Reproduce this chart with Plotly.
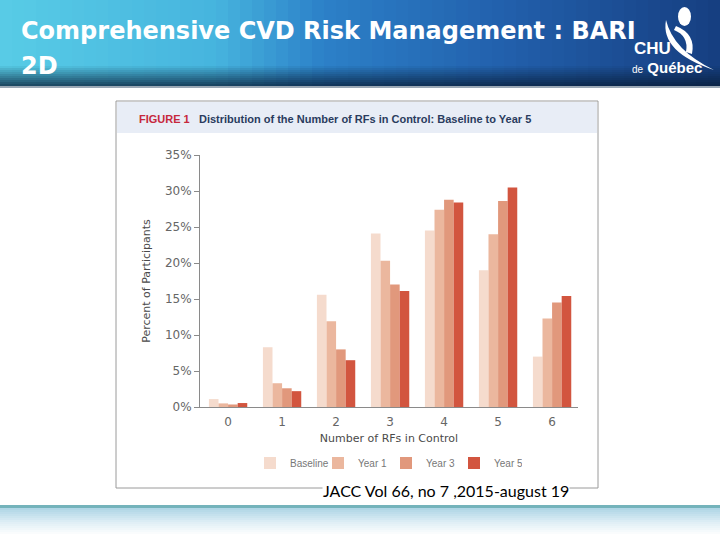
import plotly.graph_objects as go

# Data (percent of participants)
categories = [0, 1, 2, 3, 4, 5, 6]
series_names = ["Baseline", "Year 1", "Year 3", "Year 5"]
baseline = [1.1, 8.3, 15.6, 24.1, 24.5, 19.0, 7.0]
year1 = [0.5, 3.3, 11.9, 20.3, 27.4, 24.0, 12.3]
year3 = [0.35, 2.6, 8.0, 17.0, 28.8, 28.6, 14.5]
year5 = [0.55, 2.2, 6.5, 16.1, 28.4, 30.5, 15.4]
y_ticks = [0, 5, 10, 15, 20, 25, 30, 35]
y_tick_text = [f"{v}%" for v in y_ticks]

COLORS = ["#f5dbcd", "#ebb79e", "#e1987c", "#d2553f"]

W, H = 720, 540


def px(x):
    return x / W


def py(y):
    return 1 - y / H


def lerp_color(stops, t):
    for (t0, c0), (t1, c1) in zip(stops, stops[1:]):
        if t0 <= t <= t1:
            f = (t - t0) / (t1 - t0) if t1 > t0 else 0
            rgb = [round(c0[i] + (c1[i] - c0[i]) * f) for i in range(3)]
            return "rgb(%d,%d,%d)" % tuple(rgb)
    c = stops[-1][1]
    return "rgb(%d,%d,%d)" % c


def note(text, x, y, size, color, family, xanchor="left", **kw):
    return dict(text=text, x=px(x), y=py(y), xref="paper", yref="paper",
                xanchor=xanchor, yanchor="middle", showarrow=False,
                font=dict(family=family, size=size, color=color), **kw)


fig = go.Figure()

for name, vals, col in zip(series_names, [baseline, year1, year3, year5], COLORS):
    fig.add_trace(go.Bar(x=categories, y=vals, name=name, marker_color=col,
                         marker_line_width=0))

shapes = []

# title banner: horizontal gradient built from strips
banner_stops = [
    (0.0, (88, 204, 230)),
    (0.30, (70, 180, 222)),
    (0.45, (44, 128, 200)),
    (0.70, (34, 96, 172)),
    (1.0, (22, 62, 128)),
]
n_strips = 60
for i in range(n_strips):
    x0 = W * i / n_strips
    x1 = W * (i + 1) / n_strips + 0.5
    shapes.append(dict(type="rect", xref="paper", yref="paper",
                       x0=px(x0), x1=px(x1), y0=py(86), y1=py(0),
                       fillcolor=lerp_color(banner_stops, (i + 0.5) / n_strips),
                       line_width=0, layer="below"))
# darker band at bottom of banner
for i in range(10):
    y0 = 66 + i * 2
    shapes.append(dict(type="rect", xref="paper", yref="paper",
                       x0=0, x1=1, y0=py(y0 + 2), y1=py(y0),
                       fillcolor="rgba(8,28,52,%.2f)" % (0.06 + i * 0.075),
                       line_width=0, layer="below"))
shapes.append(dict(type="rect", xref="paper", yref="paper", x0=0, x1=1,
                   y0=py(88), y1=py(86), fillcolor="#9aa7b4", line_width=0,
                   layer="below"))

# logo swoosh
shapes.append(dict(type="circle", xref="paper", yref="paper",
                   x0=px(678), x1=px(691), y0=py(26), y1=py(7),
                   fillcolor="white", line_width=0))
shapes.append(dict(type="path", xref="paper", yref="paper",
                   path="M %f %f Q %f %f %f %f Q %f %f %f %f Z" % (
                       px(666), py(20), px(660), py(52), px(714), py(70),
                       px(673), py(50), px(666), py(20)),
                   fillcolor="white", line_width=0))
shapes.append(dict(type="path", xref="paper", yref="paper",
                   path="M %f %f Q %f %f %f %f L %f %f Q %f %f %f %f Z" % (
                       px(676), py(26), px(696), py(34), px(692), py(54),
                       px(686), py(52), px(689), py(36), px(674), py(30)),
                   fillcolor="white", line_width=0))

# figure box and header strip
shapes.append(dict(type="rect", xref="paper", yref="paper",
                   x0=px(116), x1=px(598), y0=py(488), y1=py(101),
                   line=dict(color="#9a9a9a", width=1), fillcolor="white",
                   layer="below"))
shapes.append(dict(type="rect", xref="paper", yref="paper",
                   x0=px(117), x1=px(597), y0=py(133), y1=py(102),
                   fillcolor="#e8edf6", line_width=0, layer="below"))

# bottom decoration
shapes.append(dict(type="rect", xref="paper", yref="paper", x0=0, x1=1,
                   y0=py(508), y1=py(505), fillcolor="#74b3bb", line_width=0,
                   layer="below"))
bottom_stops = [(0.0, (176, 214, 230)), (0.5, (222, 238, 245)), (1.0, (255, 255, 255))]
for i in range(14):
    y0 = 508 + i * 2
    shapes.append(dict(type="rect", xref="paper", yref="paper", x0=0, x1=1,
                       y0=py(y0 + 2), y1=py(y0),
                       fillcolor=lerp_color(bottom_stops, i / 13),
                       line_width=0, layer="below"))

annotations = [
    note("<b>Comprehensive CVD Risk Management : BARI</b>", 19, 31, 24, "white", "DejaVu Sans"),
    note("<b>2D</b>", 19, 66, 24, "white", "DejaVu Sans"),
    note("<b>CHU</b>", 632, 48, 17, "white", "Liberation Sans"),
    note("<span style='font-size:10px'>de</span> <b>Québec</b>", 630, 67, 15, "white",
         "Liberation Sans"),
    note("<b>FIGURE 1</b>", 137, 119, 11, "#c6283c", "Liberation Sans"),
    note("<b>Distribution of the Number of RFs in Control: Baseline to Year 5</b>",
         197, 119, 11, "#2a3c5e", "Liberation Sans"),
    note("JACC Vol 66, no 7 ,2015-august 19", 446, 490, 16, "black", "Lato",
         xanchor="center", bgcolor="white", borderpad=0),
]

fig.update_layout(
    width=W, height=H,
    margin=dict(l=0, r=0, t=0, b=0, autoexpand=False),
    paper_bgcolor="white", plot_bgcolor="white",
    barmode="group", bargap=0.29, bargroupgap=0,
    shapes=shapes, annotations=annotations,
    font=dict(family="DejaVu Sans", color="#666666"),
    legend=dict(orientation="h", x=px(250), y=py(463), xanchor="left",
                yanchor="middle", bgcolor="rgba(0,0,0,0)",
                entrywidth=23, entrywidthmode="pixels",
                font=dict(family="Liberation Sans", size=10, color="#777777"),
                traceorder="normal"),
    xaxis=dict(domain=[px(200), px(578)], range=[-0.52, 6.48], automargin=False,
               tickvals=categories, ticks="", ticklabelstandoff=4,
               showgrid=False, zeroline=False,
               showline=True, linecolor="#8a8a8a", linewidth=1,
               tickfont=dict(size=12, color="#666666"),
               title=dict(text="Number of RFs in Control", standoff=5,
                          font=dict(size=11, color="#4a4a4a"))),
    yaxis=dict(domain=[py(407), py(155)], range=[0, 35], automargin=False,
               tickmode="array", tickvals=y_ticks, ticktext=y_tick_text,
               ticks="outside", ticklen=5, tickcolor="#8a8a8a",
               showgrid=False, zeroline=False, showline=True,
               linecolor="#8a8a8a", linewidth=1,
               tickfont=dict(size=12, color="#666666"),
               title=dict(text="Percent of Participants", standoff=12,
                          font=dict(size=11, color="#4a4a4a"))),
)

fig.write_html(
    "out.html",
    config={"displayModeBar": False},
    post_script=(
        "var s=document.createElement('style');"
        "s.textContent='html,body{margin:0;padding:0;overflow:hidden;}';"
        "document.head.appendChild(s);"
    ),
)
